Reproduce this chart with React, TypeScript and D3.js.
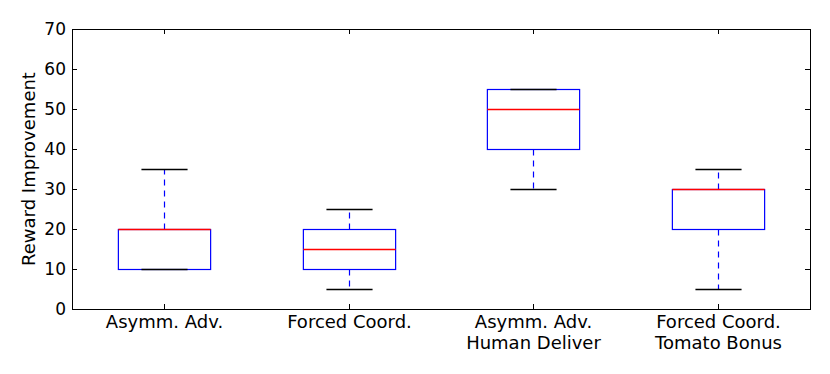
import React from 'react'
import * as d3 from 'd3'

// categories (multi-line labels split on \n)
const categories = ['Asymm. Adv.', 'Forced Coord.', 'Asymm. Adv.\nHuman Deliver', 'Forced Coord.\nTomato Bonus']
// box stats
const whiskerLow = [10, 5, 30, 5]
const q1 = [10, 10, 40, 20]
const median = [20, 15, 50, 30]
const q3 = [20, 20, 55, 30]
const whiskerHigh = [35, 25, 55, 35]
const yTicks = [0, 10, 20, 30, 40, 50, 60, 70]

const App = () => {
    const W = 830, H = 374
    const margin = { top: 29, right: 20, bottom: 65, left: 72 }
    const width = W - margin.left - margin.right
    const height = H - margin.top - margin.bottom

    const xScale = d3.scaleLinear().domain([0.5, 4.5]).range([0, width])
    const yScale = d3.scaleLinear().domain([0, 70]).range([height, 0])
    // half-pixel offset so 1px lines stay crisp
    const y = (v: number) => yScale(v) + 0.5

    const font = 'DejaVu Sans, sans-serif'
    const boxW = xScale(1.5) - xScale(1)
    const capW = boxW / 2
    const tickLen = 5
    const lw = 1.2

    return (
        <svg width={W} height={H} style={{ position: 'absolute', left: 0, top: 0 }}>
            <rect width={W} height={H} fill="white" />
            <g transform={`translate(${margin.left},${margin.top})`}>
                {/* boxes */}
                {categories.map((c, i) => {
                    const cx = Math.round(xScale(i + 1)) + 0.5
                    return (
                        <g key={'b' + c}>
                            <rect x={cx - boxW / 2} y={y(q3[i])} width={boxW}
                                height={y(q1[i]) - y(q3[i])}
                                fill="none" stroke="#0000ff" strokeWidth={lw} />
                            {q3[i] < whiskerHigh[i] &&
                                <line x1={cx} x2={cx} y1={y(q3[i])} y2={y(whiskerHigh[i])}
                                    stroke="#0000ff" strokeWidth={lw} strokeDasharray="6,5" />}
                            {q1[i] > whiskerLow[i] &&
                                <line x1={cx} x2={cx} y1={y(q1[i])} y2={y(whiskerLow[i])}
                                    stroke="#0000ff" strokeWidth={lw} strokeDasharray="6,5" />}
                        </g>
                    )
                })}
                {/* medians and caps on top */}
                {categories.map((c, i) => {
                    const cx = Math.round(xScale(i + 1)) + 0.5
                    return (
                        <g key={'m' + c}>
                            <line x1={cx - boxW / 2} x2={cx + boxW / 2} y1={y(median[i])} y2={y(median[i])}
                                stroke="#ff0000" strokeWidth={lw + 0.2} />
                            <line x1={cx - capW / 2} x2={cx + capW / 2} y1={y(whiskerHigh[i])} y2={y(whiskerHigh[i])}
                                stroke="#000" strokeWidth={lw + 0.2} />
                            <line x1={cx - capW / 2} x2={cx + capW / 2} y1={y(whiskerLow[i])} y2={y(whiskerLow[i])}
                                stroke="#000" strokeWidth={lw + 0.2} />
                        </g>
                    )
                })}

                {/* frame */}
                <rect x={0.5} y={0.5} width={width} height={height} fill="none" stroke="#000" strokeWidth={1} />

                {/* y ticks, inside, both sides */}
                {yTicks.map(t => (
                    <g key={t}>
                        <line x1={0} x2={tickLen} y1={y(t)} y2={y(t)} stroke="#000" />
                        <line x1={width} x2={width - tickLen} y1={y(t)} y2={y(t)} stroke="#000" />
                        <text x={-6} y={yScale(t)} dy="0.36em" textAnchor="end"
                            fontFamily={font} fontSize={17}>{t}</text>
                    </g>
                ))}

                {/* x ticks */}
                {categories.map((c, i) => {
                    const cx = Math.round(xScale(i + 1)) + 0.5
                    return (
                        <g key={c}>
                            <line x1={cx} x2={cx} y1={height} y2={height - tickLen} stroke="#000" />
                            <line x1={cx} x2={cx} y1={0} y2={tickLen} stroke="#000" />
                            <text x={cx} y={height + 19} textAnchor="middle" fontFamily={font} fontSize={18}>
                                {c.split('\n').map((s, j) => (
                                    <tspan key={j} x={cx} dy={j === 0 ? 0 : 20.5}>{s}</tspan>
                                ))}
                            </text>
                        </g>
                    )
                })}

                {/* y label */}
                <text transform={`translate(${-37},${height / 2}) rotate(-90)`} textAnchor="middle"
                    fontFamily={font} fontSize={18}>Reward Improvement</text>
            </g>
        </svg>
    )
}

export default App
